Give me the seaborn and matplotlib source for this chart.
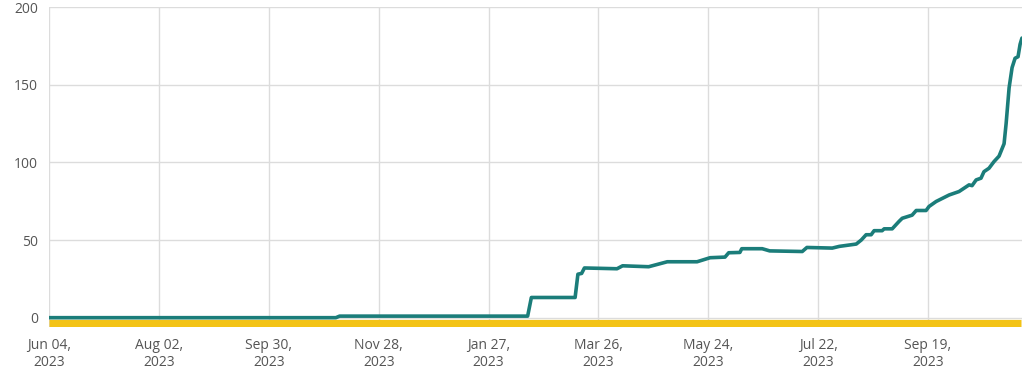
import matplotlib
matplotlib.use("Agg")
import matplotlib.pyplot as plt
import pandas as pd
import seaborn as sns

# Cumulative series (x = days since Jun 04)
days = [0, 154, 156, 257, 259, 282.5, 284, 286, 287.5, 305, 308, 322, 332, 348,
        355, 363, 365, 371, 372, 383, 387, 404.5, 407, 420.6, 424.4, 433.5,
        436.2, 438.8, 441.5, 443.1, 447.4, 448.5, 452.8, 456.5, 458.2, 463.5,
        465.7, 471, 472.6, 476.4, 483.4, 488.7, 494.1, 495.7, 497.9, 500.5,
        502.1, 504.8, 507.5, 510.2, 512.9, 514, 515.6, 517.2, 518.8, 520.4,
        521.5, 522.5]
values = [0, 0, 1, 1, 13, 13, 28, 28.5, 32, 31.5, 33.4, 32.8, 36, 36,
          38.6, 39, 41.8, 42, 44.4, 44.4, 43, 42.6, 45.2, 44.8, 45.9, 47.4,
          50, 53.4, 53.4, 56, 56, 57.2, 57.2, 62, 64, 66,
          69, 69, 71.6, 74.8, 79, 81.2, 85.5, 85, 88.7, 89.8,
          94, 96.2, 100.5, 104, 112, 125, 148, 161, 167, 168,
          176, 180]

# Baseline band series
base_days = [0, 522]
base_values = [-3.5, -3.5]

tick_days = [0, 59, 118, 177, 236, 295, 354, 413, 472]
tick_labels = ["Jun 04,\n2023", "Aug 02,\n2023", "Sep 30,\n2023", "Nov 28,\n2023",
               "Jan 27,\n2023", "Mar 26,\n2023", "May 24,\n2023", "Jul 22,\n2023",
               "Sep 19,\n2023"]

df = pd.DataFrame({"day": days, "value": values})
df_base = pd.DataFrame({"day": base_days, "value": base_values})

sns.set_style("white")
plt.rcParams["font.family"] = ["Open Sans", "DejaVu Sans"]

fig = plt.figure(figsize=(10.24, 3.71), dpi=100)
ax = fig.add_axes([0.048, 0.1186, 0.95, 0.8625])

sns.lineplot(data=df_base, x="day", y="value", ax=ax, color="#f3c316",
             linewidth=5.2, estimator=None, solid_capstyle="butt")
sns.lineplot(data=df, x="day", y="value", ax=ax, color="#1b7d7a",
             linewidth=2.6, estimator=None, solid_capstyle="round")

ax.set_xlim(0, 522.5)
ax.set_ylim(-6, 200)
ax.set_xticks(tick_days)
ax.set_xticklabels(tick_labels)
ax.set_yticks([0, 50, 100, 150, 200])
ax.set_xlabel("")
ax.set_ylabel("")
ax.grid(True, color="#dcdcdc", linewidth=1)
ax.set_axisbelow(True)
for s in ax.spines.values():
    s.set_visible(False)
ax.tick_params(axis="both", length=0, labelsize=10, colors="#555555")
ax.tick_params(axis="x", pad=8)
ax.tick_params(axis="y", pad=8)

fig.savefig("out.png", dpi=100)
